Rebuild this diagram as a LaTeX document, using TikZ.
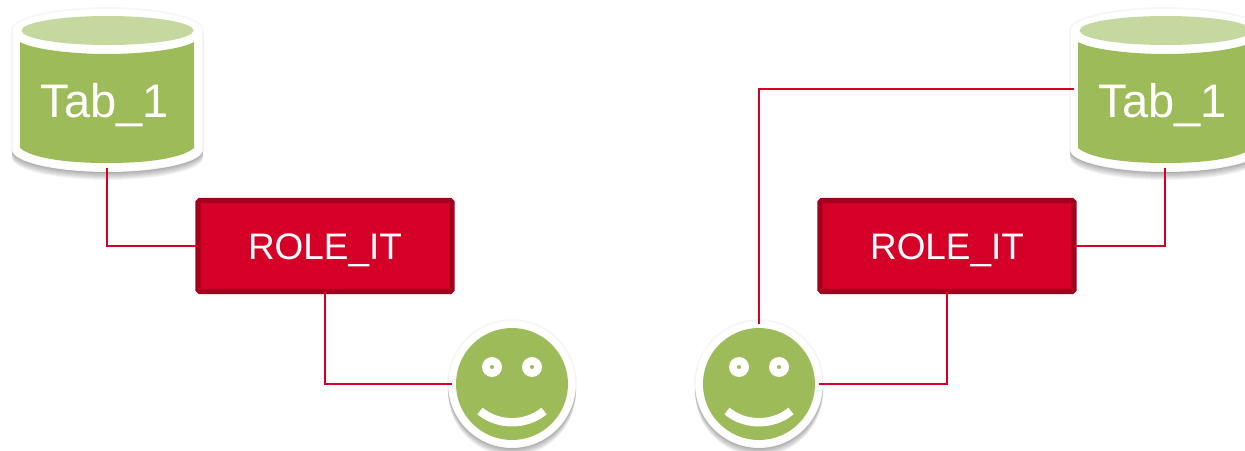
\documentclass[tikz,border=0pt]{standalone}
\usepackage{fontspec}
\setmainfont{Liberation Sans}
\usetikzlibrary{positioning,calc}
\definecolor{tabgreen}{HTML}{9DBB58}
\definecolor{tablight}{HTML}{C5D89F}
\definecolor{rolered}{HTML}{D50027}
\definecolor{roledark}{HTML}{A3001E}
\tikzset{
  portbox/.style={minimum width=3.64cm,minimum height=3.16cm,inner sep=0pt,outer sep=0pt},
  tabtext/.style={font=\fontsize{26.8}{32}\selectfont,text=white,inner sep=0pt},
  rolebox/.style={draw=roledark,fill=rolered,line width=3pt,rounded corners=1pt,minimum width=5.08cm,minimum height=1.82cm,inner sep=0pt,outer sep=0pt,font=\fontsize{21}{25}\selectfont,text=white,text height=19pt,text depth=3.7pt},
  facebox/.style={circle,minimum size=2.4cm,inner sep=0pt,outer sep=0pt},
  wire/.style={draw=rolered,line width=1.1pt},
  halo/.style={draw=black,draw opacity=0.035,line width=1pt},
}
\newcommand{\tabouter}{(12,30) .. controls (12,18) and (55,8) .. (107.5,8) .. controls (160,8) and (203,18) .. (203,30) -- (203,150) .. controls (203,162) and (160,172) .. (107.5,172) .. controls (55,172) and (12,162) .. (12,150) -- cycle}
\begin{document}
\begin{tikzpicture}[x=0.02cm,y=-0.02cm]
  \path[use as bounding box,clip] (0,0) rectangle (1245,450);
  % tables
  \foreach \cx/\nm in {0/L,1058/R}{
    \begin{scope}[xshift=\cx*0.02cm]
      \foreach \i in {1,2,3,4,5,6,7,8}
        \fill[black,opacity=0.045,shift={(0,\i)}] \tabouter;
      \draw[halo,fill=white] \tabouter;
      \fill[tablight] (107.5,30.5) ellipse [x radius=86,y radius=14.5];
      \fill[tabgreen] (20,42) .. controls (32,49) and (70,54) .. (107,54) .. controls (145,54) and (182,49) .. (194,42) -- (194,148) .. controls (182,158) and (150,163) .. (107,163) .. controls (65,163) and (32,158) .. (20,148) -- cycle;
      \node[tabtext] (tabtext\nm) at (105,105) {Tab\_1};
    \end{scope}
  }
  \node[portbox] (tabL) at (107,89) {};
  \node[portbox] (tabR) at (1165,89) {};
  % roles
  \node[rolebox] (roleL) at (325,246) {ROLE\_IT};
  \node[rolebox] (roleR) at (947,246) {ROLE\_IT};
  % faces
  \foreach \cx/\nm in {512/L,759/R}{
    \begin{scope}[xshift=\cx*0.02cm,yshift=-384*0.02cm]
      \foreach \i in {1,2,3,4,5,6,7,8}
        \fill[black,opacity=0.045] (0,\i) circle [radius=64];
      \draw[halo,fill=white] (0,0) circle [radius=64];
      \fill[tabgreen] (0,0) circle [radius=56];
      \foreach \ex in {-20,20}{
        \fill[white] (\ex,-17) circle [radius=10];
        \fill[tabgreen] (\ex,-17) circle [radius=2];
      }
      \draw[white,line width=4.8pt] (-32,27) .. controls (-14,42) and (14,42) .. (32,27);
    \end{scope}
    \node[facebox] (face\nm) at (\cx,384) {};
  }
  % connectors
  \draw[wire] (tabL.south) |- (roleL.west);
  \draw[wire] (roleL.south) |- (faceL.west);
  \draw[wire] (tabR.south) |- (roleR.east);
  \draw[wire] (roleR.south) |- (faceR.east);
  \draw[wire] (tabR.west) -| (faceR.north);
\end{tikzpicture}
\end{document}
